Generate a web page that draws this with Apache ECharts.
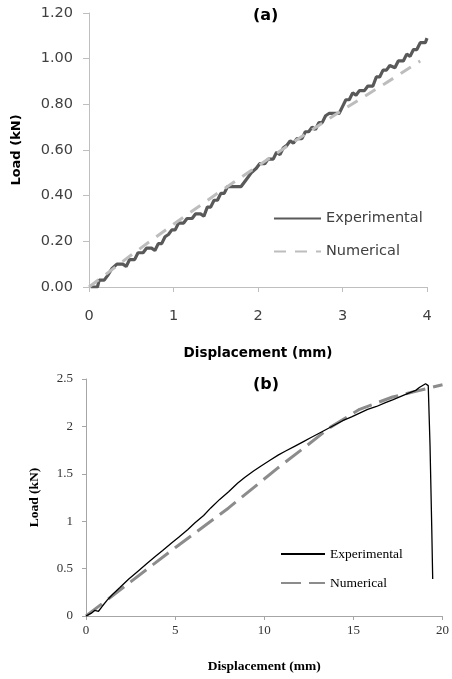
<!DOCTYPE html>
<html><head><meta charset="utf-8">
<script src="https://cdn.jsdelivr.net/npm/echarts@6/dist/echarts.min.js"></script>
<style>html,body{margin:0;padding:0;background:#fff;width:452px;height:679px;overflow:hidden}
#a{position:absolute;left:0;top:0;width:452px;height:365px}
#b{position:absolute;left:0;top:365px;width:452px;height:314px}</style>
</head><body><div id="a"></div><div id="b"></div>
<script>
// ---- Chart (a) data ----
const aXTicks = [0, 4, 1];          // min, max, interval
const aYTicks = [0, 1.2, 0.2];
const aExperimental = [[0.02,0.00],[0.10,0.00],[0.12,0.03],[0.18,0.03],[0.22,0.05],[0.27,0.08],[0.33,0.10],[0.40,0.10],[0.44,0.09],[0.48,0.12],[0.54,0.12],[0.58,0.15],[0.64,0.15],[0.68,0.17],[0.74,0.17],[0.78,0.16],[0.82,0.19],[0.86,0.19],[0.90,0.22],[0.94,0.23],[0.98,0.25],[1.02,0.25],[1.06,0.28],[1.12,0.28],[1.16,0.30],[1.22,0.30],[1.26,0.32],[1.32,0.32],[1.36,0.31],[1.40,0.35],[1.44,0.35],[1.48,0.38],[1.52,0.38],[1.56,0.41],[1.60,0.41],[1.64,0.44],[1.70,0.44],[1.80,0.44],[1.86,0.47],[1.92,0.50],[1.98,0.52],[2.02,0.54],[2.08,0.54],[2.12,0.56],[2.18,0.56],[2.22,0.59],[2.26,0.58],[2.30,0.61],[2.34,0.62],[2.38,0.64],[2.42,0.63],[2.46,0.65],[2.52,0.65],[2.56,0.68],[2.60,0.68],[2.64,0.70],[2.68,0.69],[2.72,0.72],[2.76,0.72],[2.80,0.75],[2.84,0.76],[2.88,0.76],[2.96,0.76],[3.00,0.79],[3.04,0.82],[3.08,0.82],[3.12,0.85],[3.16,0.84],[3.20,0.86],[3.26,0.86],[3.30,0.88],[3.36,0.88],[3.40,0.92],[3.44,0.92],[3.48,0.95],[3.52,0.95],[3.56,0.97],[3.62,0.96],[3.66,0.99],[3.72,0.99],[3.76,1.02],[3.80,1.01],[3.84,1.04],[3.88,1.04],[3.92,1.07],[3.98,1.07],[4.00,1.09]];
const aNumerical = [[0,0],[0.5,0.14],[1,0.275],[1.5,0.405],[2,0.53],[2.5,0.655],[3,0.775],[3.5,0.89],[3.92,0.99]];

// ---- Chart (b) data ----
const bXTicks = [0, 20, 5];
const bYTicks = [0, 2.5, 0.5];
const bExperimental = [[0,0],[0.3,0.03],[0.5,0.06],[0.7,0.05],[0.9,0.10],[1.2,0.17],[1.5,0.23],[1.9,0.30],[2.4,0.39],[2.9,0.47],[3.4,0.55],[3.9,0.63],[4.3,0.69],[4.8,0.77],[5.2,0.83],[5.7,0.91],[6.1,0.98],[6.6,1.06],[7.0,1.14],[7.5,1.23],[8.0,1.31],[8.5,1.40],[8.9,1.46],[9.4,1.53],[9.8,1.58],[10.3,1.64],[10.8,1.70],[11.2,1.74],[11.7,1.79],[12.2,1.84],[12.6,1.88],[13.0,1.92],[13.5,1.97],[14.0,2.02],[14.4,2.06],[14.9,2.10],[15.35,2.14],[15.8,2.18],[16.3,2.21],[16.8,2.25],[17.2,2.28],[17.7,2.32],[18.1,2.35],[18.5,2.38],[18.7,2.41],[19.05,2.45],[19.15,2.46],[19.2,2.43],[19.3,1.8],[19.4,0.9],[19.45,0.39]];
const bNumerical = [[0,0],[2.5,0.36],[5,0.72],[8,1.14],[10.75,1.56],[12.2,1.77],[13.7,1.99],[15.35,2.18],[17.2,2.31],[18.5,2.37],[20,2.44]];

const SANS = 'DejaVu Sans';
const SERIF = 'Liberation Serif';

const chartA = echarts.init(document.getElementById('a'), null, {renderer:'canvas'});
chartA.setOption({
  animation: false,
  title: {text:'(a)', left: 248, top: 3, textStyle:{fontFamily:SANS, fontWeight:'bold', fontSize:16, color:'#000'}},
  grid: {left:89, right:25, top:13, height:274},
  legend: {orient:'vertical', left:268, top:206, itemWidth:47, itemHeight:14, itemGap:18,
    itemStyle:{opacity:0},
    textStyle:{fontFamily:SANS, fontSize:14.5, color:'#404040'},
    data:['Experimental','Numerical']},
  xAxis: {type:'value', min:aXTicks[0], max:aXTicks[1], interval:aXTicks[2],
    name:'Displacement (mm)', nameLocation:'middle', nameGap:59,
    nameTextStyle:{fontFamily:SANS, fontWeight:'bold', fontSize:13.5, color:'#000'},
    axisLine:{lineStyle:{color:'#bfbfbf', width:1}},
    axisTick:{show:true, length:5, lineStyle:{color:'#bfbfbf'}},
    axisLabel:{margin:22, fontFamily:SANS, fontSize:14.5, color:'#404040'},
    splitLine:{show:false}},
  yAxis: {type:'value', min:aYTicks[0], max:aYTicks[1], interval:aYTicks[2],
    name:'Load (kN)', nameLocation:'middle', nameGap:66,
    nameTextStyle:{fontFamily:SANS, fontWeight:'bold', fontSize:13, color:'#000'},
    axisLine:{show:true, lineStyle:{color:'#bfbfbf', width:1}},
    axisTick:{show:true, length:6, lineStyle:{color:'#bfbfbf'}},
    axisLabel:{margin:16, fontFamily:SANS, fontSize:14.5, color:'#404040', formatter:v=>v.toFixed(2)},
    splitLine:{show:false}},
  series: [
    {name:'Experimental', type:'line', data:aExperimental, symbol:'none', z:2,
      lineStyle:{color:'#595959', width:3.2}, itemStyle:{color:'#595959'}},
    {name:'Numerical', type:'line', data:aNumerical, symbol:'none', z:3,
      lineStyle:{color:'#bdbdbd', width:3, type:[12,9]}, itemStyle:{color:'#bdbdbd'}}
  ]
});

const chartB = echarts.init(document.getElementById('b'), null, {renderer:'canvas'});
chartB.setOption({
  animation: false,
  title: {text:'(b)', left: 248, top: 7, textStyle:{fontFamily:SANS, fontWeight:'bold', fontSize:16, color:'#000'}},
  grid: {left:86, right:4, top:14, height:242},
  legend: {orient:'vertical', left:275, top:177, itemWidth:44, itemHeight:14, itemGap:15,
    itemStyle:{opacity:0},
    textStyle:{fontFamily:SERIF, fontSize:13.5, color:'#000'},
    data:['Experimental','Numerical']},
  xAxis: {type:'value', min:bXTicks[0], max:bXTicks[1], interval:bXTicks[2],
    name:'Displacement (mm)', nameLocation:'middle', nameGap:44,
    nameTextStyle:{fontFamily:SERIF, fontWeight:'bold', fontSize:13.5, color:'#000'},
    axisLine:{lineStyle:{color:'#a6a6a6', width:1}},
    axisTick:{show:true, length:4, lineStyle:{color:'#a6a6a6'}},
    axisLabel:{margin:8, fontFamily:SERIF, fontSize:13, color:'#333'},
    splitLine:{show:false}},
  yAxis: {type:'value', min:bYTicks[0], max:bYTicks[1], interval:bYTicks[2],
    name:'Load (kN)', nameLocation:'middle', nameGap:44,
    nameTextStyle:{fontFamily:SERIF, fontWeight:'bold', fontSize:13.5, color:'#000'},
    axisLine:{show:true, lineStyle:{color:'#a6a6a6', width:1}},
    axisTick:{show:true, length:4, lineStyle:{color:'#a6a6a6'}},
    axisLabel:{margin:13, fontFamily:SERIF, fontSize:13, color:'#333'},
    splitLine:{show:false}},
  series: [
    {name:'Experimental', type:'line', data:bExperimental, symbol:'none', z:3,
      lineStyle:{color:'#000', width:1.3}, itemStyle:{color:'#000'}},
    {name:'Numerical', type:'line', data:bNumerical, symbol:'none', z:2,
      lineStyle:{color:'#8c8c8c', width:3, type:[20,8]}, itemStyle:{color:'#8c8c8c'}}
  ]
});
</script></body></html>
